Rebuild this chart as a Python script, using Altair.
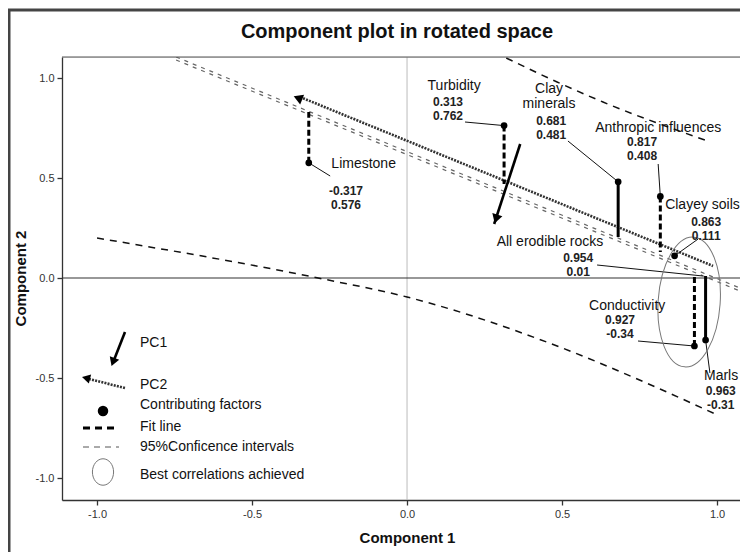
import altair as alt
import pandas as pd

# ---------------- data ----------------
factors = ["Limestone", "Turbidity", "Clay minerals", "Anthropic influences",
           "Clayey soils", "All erodible rocks", "Conductivity", "Marls"]
comp1 = [-0.317, 0.313, 0.681, 0.817, 0.863, 0.954, 0.927, 0.963]
comp2 = [0.576, 0.762, 0.481, 0.408, 0.111, 0.01, -0.34, -0.31]
comp1_text = ["-0.317", "0.313", "0.681", "0.817", "0.863", "0.954", "0.927", "0.963"]
comp2_text = ["0.576", "0.762", "0.481", "0.408", "0.111", "0.01", "-0.34", "-0.31"]
has_dot = [True, True, True, True, True, False, True, True]
display_name = ["Limestone", "Turbidity", "Clay\nminerals", "Anthropic influences",
                "Clayey soils", "All erodible rocks", "Conductivity", "Marls"]

# label anchors (annotation layout, in data units)
name_x = [-0.14, 0.152, 0.458, 0.81, 0.953, 0.461, 0.71, 1.013]
name_y = [0.57, 0.96, 0.945, 0.75, 0.365, 0.18, -0.14, -0.49]
value_x = [-0.197, 0.132, 0.465, 0.758, 0.965, 0.552, 0.687, 1.012]
value_y = [0.435, 0.88, 0.785, 0.68, 0.28, 0.10, -0.21, -0.565]
leader_x = [-0.248, 0.187, 0.519, 0.81, 0.939, 0.613, 0.745, 0.977]
leader_y = [0.51, 0.78, 0.685, 0.57, 0.195, 0.065, -0.315, -0.475]

# projection segments from the factors to the fit band
resid_factor = ["Limestone", "Turbidity", "Clay minerals", "Anthropic influences",
                "Conductivity", "Marls"]
resid_end = [0.83, 0.47, 0.205, 0.13, 0.02, 0.01]
resid_dashed = [True, True, False, True, True, False]

# fit line (double grey line)
fit_x = [-0.745, 1.074]
fit_y = [1.105, -0.05]
# PC2 direction (dotted arrow) and PC1 direction (solid arrow)
pc2_x = [0.987, -0.345]
pc2_y = [0.06, 0.905]
pc1_x = [0.365, 0.281]
pc1_y = [0.67, 0.27]
arrow_x = [0.287, -0.352]
arrow_y = [0.295, 0.90]
arrow_angle = [197, 292]

# 95% confidence curves
ci_low_x = [-1.0, -0.287, 0.0, 0.484, 0.816, 0.994]
ci_low_y = [0.2, 0.0, -0.095, -0.34, -0.555, -0.68]
ci_up_x = [0.32, 0.484, 0.632, 0.97]
ci_up_y = [1.10, 0.98, 0.88, 0.685]

# best-correlation ellipse centre
ell_x = [0.91]
ell_y = [-0.12]

FONT = "Liberation Sans"
TXT = "#111111"

# ---------------- scales / axes ----------------
xs = alt.Scale(domain=[-1.113, 1.074], nice=False, zero=False)
ys = alt.Scale(domain=[-1.11, 1.105], nice=False, zero=False)
lab = "datum.value == 0 ? '0.0' : (datum.value < 0 ? '-' : '') + format(abs(datum.value), '.1f')"
xaxis = alt.Axis(values=[-1, -0.5, 0, 0.5, 1], labelExpr=lab, grid=False, tickSize=5,
                 tickColor="#333", domainColor="#333", domainWidth=1.3, tickWidth=1.3,
                 labelFont=FONT, labelFontSize=11, labelColor="#333", labelPadding=3,
                 title="Component 1", titleFont=FONT, titleFontSize=15,
                 titleFontWeight="bold", titleColor=TXT, titleX=345, titleY=37,
                 titleBaseline="middle")
yaxis = alt.Axis(values=[-1, -0.5, 0, 0.5, 1], labelExpr=lab, grid=False, tickSize=5,
                 tickColor="#333", domainColor="#333", domainWidth=1.3, tickWidth=1.3,
                 labelFont=FONT, labelFontSize=11, labelColor="#333", labelPadding=3,
                 title="Component 2", titleFont=FONT, titleFontSize=15,
                 titleFontWeight="bold", titleColor=TXT, titleX=-42, titleY=221,
                 titleBaseline="middle")


def X(f):
    return alt.X(f + ":Q", scale=xs, axis=xaxis)


def Y(f):
    return alt.Y(f + ":Q", scale=ys, axis=yaxis)


# ---------------- tables ----------------
pts = pd.DataFrame({"factor": factors, "c1": comp1, "c2": comp2,
                    "t1": comp1_text, "t2": comp2_text, "dot": has_dot,
                    "name": display_name, "nx": name_x, "ny": name_y,
                    "vx": value_x, "vy": value_y, "lx": leader_x, "ly": leader_y})
lookup = dict(zip(factors, zip(comp1, comp2)))
res = pd.DataFrame({"factor": resid_factor,
                    "x": [lookup[f][0] for f in resid_factor],
                    "y0": [lookup[f][1] for f in resid_factor],
                    "y1": resid_end, "dashed": resid_dashed})
fit_a = pd.DataFrame({"x": fit_x, "y": fit_y})
fit_b = pd.DataFrame({"x": fit_x, "y": [v - 0.015 for v in fit_y]})
pc2 = pd.DataFrame({"x": pc2_x, "y": pc2_y})
pc1 = pd.DataFrame({"x": [pc1_x[0]], "y": [pc1_y[0]], "x2": [pc1_x[1]], "y2": [pc1_y[1]]})
heads = pd.DataFrame({"x": arrow_x, "y": arrow_y, "a": arrow_angle})
ci_low = pd.DataFrame({"x": ci_low_x, "y": ci_low_y})
ci_up = pd.DataFrame({"x": ci_up_x, "y": ci_up_y})
ell = pd.DataFrame({"x": ell_x, "y": ell_y})
zero = pd.DataFrame({"v": [0.0]})
one = pd.DataFrame({"a": [0]})

layers = []

# zero lines
layers.append(alt.Chart(zero).mark_rule(color="#bbbbbb", strokeWidth=1).encode(x=X("v")))
layers.append(alt.Chart(zero).mark_rule(color="#333333", strokeWidth=1.2).encode(y=Y("v")))

# fit line (double grey dashed)
for d in (fit_a, fit_b):
    layers.append(alt.Chart(d).mark_line(color="#666666", strokeWidth=1.2, strokeDash=[4, 5],
                                         clip=True).encode(x=X("x"), y=Y("y")))

# confidence curves
for d in (ci_low, ci_up):
    layers.append(alt.Chart(d).mark_line(color="#111111", strokeWidth=1.5, strokeDash=[7, 6],
                                         clip=True, interpolate="monotone").encode(x=X("x"), y=Y("y")))

# PC2 dotted line
layers.append(alt.Chart(pc2).mark_line(color="#333333", strokeWidth=2.6, strokeDash=[2, 1.2],
                                       clip=True).encode(x=X("x"), y=Y("y")))
# PC1 solid line
layers.append(alt.Chart(pc1).mark_rule(color="#000000", strokeWidth=2.6).encode(
    x=X("x"), y=Y("y"), x2="x2:Q", y2="y2:Q"))
# arrow heads
layers.append(alt.Chart(heads).mark_point(shape="triangle-up", filled=True, color="#000000",
                                          size=110, opacity=1).encode(
    x=X("x"), y=Y("y"), angle=alt.Angle("a:Q", scale=None)))

# projections
layers.append(alt.Chart(res).transform_filter("datum.dashed").mark_rule(
    color="#000000", strokeWidth=3, strokeDash=[6, 3]).encode(x=X("x"), y=Y("y0"), y2="y1:Q"))
layers.append(alt.Chart(res).transform_filter("!datum.dashed").mark_rule(
    color="#000000", strokeWidth=3).encode(x=X("x"), y=Y("y0"), y2="y1:Q"))

# leader lines
layers.append(alt.Chart(pts).mark_rule(color="#111111", strokeWidth=1).encode(
    x=X("lx"), y=Y("ly"), x2="c1:Q", y2="c2:Q"))

# factor dots
layers.append(alt.Chart(pts).transform_filter("datum.dot").mark_circle(
    size=45, color="#000000", opacity=1).encode(x=X("c1"), y=Y("c2")))

# ellipse of best correlations
layers.append(alt.Chart(ell).mark_point(
    shape="M0,-1A0.477,1,0,1,1,0,1A0.477,1,0,1,1,0,-1Z", size=16900, filled=False,
    color="#777777", strokeWidth=1, angle=4, opacity=1).encode(x=X("x"), y=Y("y")))

# labels
layers.append(alt.Chart(pts).mark_text(font=FONT, fontSize=14, color=TXT, align="center",
                                       baseline="middle", lineBreak="\n", lineHeight=15).encode(
    x=X("nx"), y=Y("ny"), text="name:N"))
layers.append(alt.Chart(pts).mark_text(font=FONT, fontSize=12, fontWeight="bold", color="#222",
                                       align="center", baseline="middle").encode(
    x=X("vx"), y=Y("vy"), text="t1:N"))
layers.append(alt.Chart(pts).mark_text(font=FONT, fontSize=12, fontWeight="bold", color="#222",
                                       align="center", baseline="middle", dy=14).encode(
    x=X("vx"), y=Y("vy"), text="t2:N"))

# ---------------- hand-made legend (pixel layout) ----------------
V = alt.value
layers.append(alt.Chart(one).mark_rule(color="#000", strokeWidth=2.6).encode(
    x=V(63), y=V(275), x2=V(52), y2=V(303)))
layers.append(alt.Chart(one).mark_point(shape="triangle-up", filled=True, color="#000",
                                        size=100, opacity=1, angle=200).encode(x=V(51), y=V(305)))
layers.append(alt.Chart(one).mark_rule(color="#333", strokeWidth=2.6, strokeDash=[2, 1.2]).encode(
    x=V(63), y=V(331), x2=V(27), y2=V(322)))
layers.append(alt.Chart(one).mark_point(shape="triangle-up", filled=True, color="#000",
                                        size=90, opacity=1, angle=284).encode(x=V(24), y=V(321)))
layers.append(alt.Chart(one).mark_circle(size=110, color="#000", opacity=1).encode(x=V(41), y=V(354)))
layers.append(alt.Chart(one).mark_rule(color="#000", strokeWidth=3, strokeDash=[7, 5]).encode(
    x=V(21), x2=V(57), y=V(371)))
layers.append(alt.Chart(one).mark_rule(color="#555", strokeWidth=1, strokeDash=[6, 5]).encode(
    x=V(21), x2=V(57), y=V(390)))
layers.append(alt.Chart(one).mark_point(
    shape="M0,-1A0.8,1,0,1,1,0,1A0.8,1,0,1,1,0,-1Z", size=700, filled=False,
    color="#777", strokeWidth=1, opacity=1).encode(x=V(41), y=V(415)))
legend_labels = ["PC1", "PC2", "Contributing  factors", "Fit  line",
                 "95%Conficence  intervals", "Best  correlations  achieved"]
legend_y = [286, 328, 348, 370, 390, 418]
for t, yy in zip(legend_labels, legend_y):
    layers.append(alt.Chart(one).mark_text(font=FONT, fontSize=14, color=TXT, align="left",
                                           baseline="middle").encode(
        x=V(78), y=V(yy), text=V(t)))

# frame, top border and title
layers.append(alt.Chart(one).mark_rule(color="#555", strokeWidth=1.2).encode(
    x=V(0), x2=V(678), y=V(0)))
layers.append(alt.Chart(one).mark_rule(color="#444", strokeWidth=3).encode(
    x=V(-53), y=V(-47), y2=V(500)))
layers.append(alt.Chart(one).mark_rule(color="#444", strokeWidth=3).encode(
    x=V(-54), x2=V(690), y=V(-47)))
layers.append(alt.Chart(one).mark_text(font=FONT, fontSize=20, fontWeight="bold", color=TXT,
                                       align="center", baseline="middle").encode(
    x=V(335), y=V(-25), text=V("Component plot in rotated space")))

chart = alt.layer(*layers).properties(
    width=678, height=443,
    autosize=alt.AutoSizeParams(type="none"),
    padding={"left": 54, "top": 49, "right": 0, "bottom": 52},
).configure_view(stroke=None).configure(background="white")

chart.save("out.html", embed_options={"renderer": "svg", "actions": False})
